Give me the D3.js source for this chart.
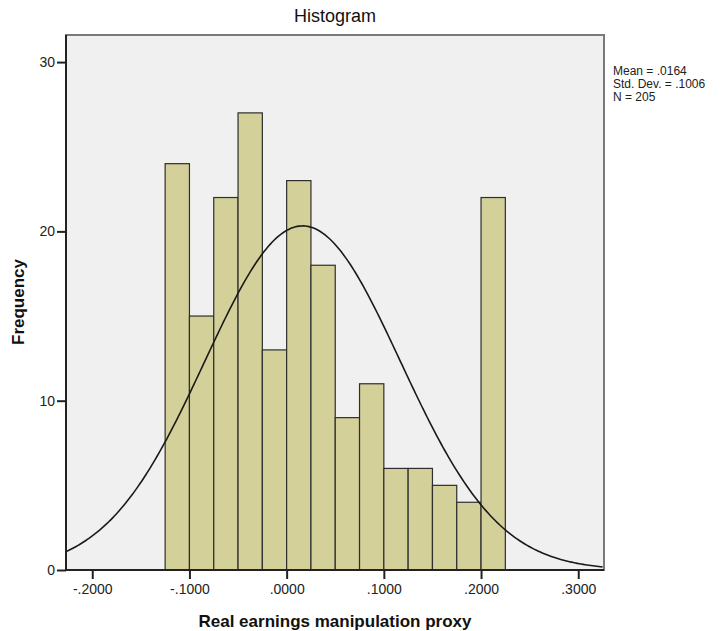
<!DOCTYPE html>
<html>
<head>
<meta charset="utf-8">
<script src="https://cdn.jsdelivr.net/npm/d3@7"></script>
<style>
  body { margin: 0; background: #fff; }
  text { font-family: "Liberation Sans", Arial, sans-serif; }
</style>
</head>
<body>
<svg id="chart" width="724" height="631"></svg>
<script>
// histogram bins (lower edges) and counts
let binStart = [-0.125, -0.100, -0.075, -0.050, -0.025, 0.000, 0.025, 0.050, 0.075, 0.100, 0.125, 0.150, 0.175, 0.200];
let counts = [24, 15, 22, 27, 13, 23, 18, 9, 11, 6, 6, 5, 4, 22];
let binWidth = 0.025;
let xTicks = [-0.2, -0.1, 0, 0.1, 0.2, 0.3];
let yTicks = [0, 10, 20, 30];
let stats = ['Mean = .0164', 'Std. Dev. = .1006', 'N = 205'];
let mean = 0.0164, sd = 0.1006, n = 205;

let svg = d3.select('#chart');
let plotL = 66, plotR = 604, plotT = 35, plotB = 570;

let x = d3.scaleLinear().domain([-0.227, 0.3265]).range([plotL, plotR]);
let y = d3.scaleLinear().domain([0, 31.6]).range([plotB, plotT]);

svg.append('rect')
  .attr('x', plotL).attr('y', plotT)
  .attr('width', plotR - plotL).attr('height', plotB - plotT)
  .attr('fill', '#f0f0f0')
  .attr('stroke', '#7a7a7a')
  .attr('stroke-width', 2);

svg.append('defs').append('clipPath').attr('id', 'clip')
  .append('rect').attr('x', plotL).attr('y', plotT)
  .attr('width', plotR - plotL).attr('height', plotB - plotT);

// bars
svg.append('g').selectAll('rect')
  .data(counts)
  .join('rect')
  .attr('x', (d, i) => x(binStart[i]))
  .attr('y', d => y(d))
  .attr('width', (d, i) => x(binStart[i] + binWidth) - x(binStart[i]))
  .attr('height', d => y(0) - y(d))
  .attr('fill', '#d4d09a')
  .attr('stroke', '#2e2e2e')
  .attr('stroke-width', 1.2);

// normal curve
let pts = d3.range(-0.227, 0.3266, 0.002).map(v => [v,
  n * binWidth / (sd * Math.sqrt(2 * Math.PI)) * Math.exp(-0.5 * ((v - mean) / sd) ** 2)]);
svg.append('path')
  .datum(pts)
  .attr('clip-path', 'url(#clip)')
  .attr('fill', 'none')
  .attr('stroke', '#1a1a1a')
  .attr('stroke-width', 1.6)
  .attr('d', d3.line().x(d => x(d[0])).y(d => y(d[1])));

// axes
let xAxis = svg.append('g')
  .attr('transform', `translate(0,${plotB})`)
  .call(d3.axisBottom(x).tickValues(xTicks).tickSize(9).tickPadding(5)
    .tickFormat(d => d3.format('.4f')(d).replace('\u2212', '-').replace(/^(-?)0\./, '$1.')));
let yAxis = svg.append('g')
  .attr('transform', `translate(${plotL},0)`)
  .call(d3.axisLeft(y).tickValues(yTicks).tickSize(9).tickPadding(2));

[xAxis, yAxis].forEach(a => {
  a.select('.domain').attr('stroke', '#222').attr('stroke-width', 2);
  a.selectAll('.tick line').attr('stroke', '#222').attr('stroke-width', 2);
  a.selectAll('.tick text').attr('fill', '#222').style('font-size', '14px')
    .style('font-family', '"Liberation Sans", Arial, sans-serif');
});
xAxis.select('.domain').attr('d', `M${plotL},0H${plotR}`);
yAxis.select('.domain').attr('d', `M0,${plotT}V${plotB}`);

// titles
svg.append('text')
  .attr('x', 335).attr('y', 22)
  .attr('text-anchor', 'middle')
  .style('font-size', '18px')
  .attr('fill', '#111')
  .text('Histogram');

svg.append('text')
  .attr('x', 335).attr('y', 627)
  .attr('text-anchor', 'middle')
  .style('font-size', '17px').style('font-weight', 'bold')
  .attr('fill', '#111')
  .text('Real earnings manipulation proxy');

svg.append('text')
  .attr('transform', 'translate(24,302) rotate(-90)')
  .attr('text-anchor', 'middle')
  .style('font-size', '17px').style('font-weight', 'bold')
  .attr('fill', '#111')
  .text('Frequency');

svg.append('g').selectAll('text')
  .data(stats)
  .join('text')
  .attr('x', 613)
  .attr('y', (d, i) => 75 + i * 13)
  .style('font-size', '12px')
  .attr('fill', '#222')
  .text(d => d);
</script>
</body>
</html>
